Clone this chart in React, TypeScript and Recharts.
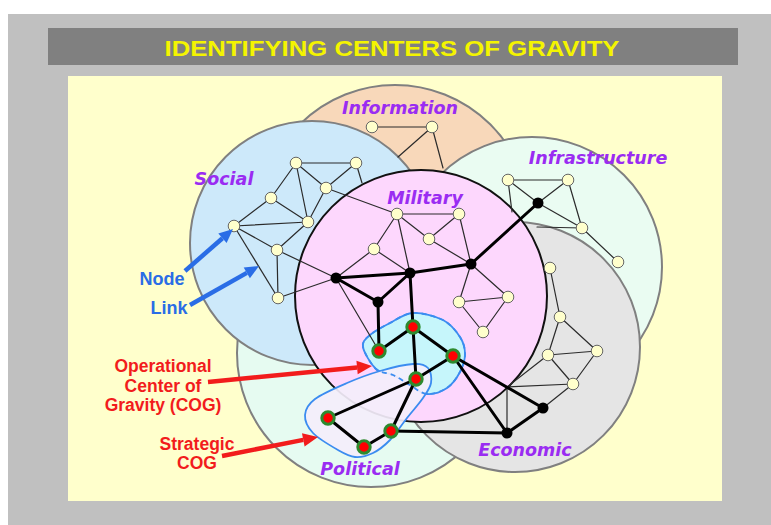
import React from "react"
import { ScatterChart, Scatter, XAxis, YAxis, ZAxis, ReferenceArea } from "recharts"

const W = 771
const H = 525

// the six domains, back to front
const domains = ["Information", "Political", "Social", "Infrastructure", "Economic", "Military"]
const domainX = [395, 371, 312, 532, 515, 421]
const domainY = [220, 353, 243, 267, 347, 296]
const domainR = [135, 134, 122, 130, 125, 126]
const domainLabelX = [400, 360, 224, 598, 525, 425]
const domainLabelY = [108, 469, 179, 158, 450, 198]

const domainFill: Record<string, string> = {
  Information: "#f8d8ba",
  Social: "#cde9fa",
  Infrastructure: "#eafcf2",
  Political: "#e6fbf1",
  Economic: "#e5e5e5",
  Military: "#fdd7fd",
}

// nodes
const plainNodes = [
  { id: "i1", x: 372, y: 127 }, { id: "i2", x: 432, y: 127 },
  { id: "s1", x: 296, y: 163 }, { id: "s2", x: 356, y: 163 }, { id: "s3", x: 326, y: 188 },
  { id: "s4", x: 271, y: 198 }, { id: "s5", x: 308, y: 222 }, { id: "s6", x: 234, y: 226 },
  { id: "s7", x: 277, y: 250 }, { id: "s8", x: 278, y: 298 },
  { id: "m1", x: 397, y: 214 }, { id: "m2", x: 459, y: 214 }, { id: "m3", x: 429, y: 239 },
  { id: "m4", x: 374, y: 249 }, { id: "m5", x: 459, y: 302 }, { id: "m6", x: 508, y: 297 },
  { id: "m7", x: 483, y: 332 },
  { id: "f1", x: 508, y: 180 }, { id: "f2", x: 568, y: 180 }, { id: "f3", x: 582, y: 228 },
  { id: "f4", x: 618, y: 262 }, { id: "f5", x: 550, y: 268 },
  { id: "e1", x: 560, y: 317 }, { id: "e2", x: 597, y: 351 }, { id: "e3", x: 548, y: 355 },
  { id: "e4", x: 573, y: 384 },
]
const keyNodes = [
  { id: "b1", x: 336, y: 278 }, { id: "b2", x: 410, y: 273 }, { id: "b3", x: 471, y: 264 },
  { id: "b4", x: 378, y: 302 }, { id: "b5", x: 538, y: 203 }, { id: "b6", x: 543, y: 408 },
  { id: "b7", x: 507, y: 433 },
]
const cogNodes = [
  { id: "r1", x: 413, y: 327 }, { id: "r2", x: 379, y: 351 }, { id: "r3", x: 453, y: 356 },
  { id: "r4", x: 416, y: 379 }, { id: "r5", x: 328, y: 418 }, { id: "r6", x: 391, y: 431 },
  { id: "r7", x: 364, y: 447 },
]
// link ends that disappear behind another circle
const joints = [
  { id: "j1", x: 507, y: 387 }, { id: "j2", x: 362, y: 183 }, { id: "j3", x: 398, y: 157 },
  { id: "j4", x: 443, y: 168 }, { id: "j5", x: 512, y: 212 }, { id: "j6", x: 537, y: 227 },
]

const thinLinks = [
  ["s1", "s2"], ["s1", "s4"], ["s1", "s5"], ["s1", "s3"], ["s2", "s3"], ["s2", "j2"],
  ["s3", "s5"], ["s3", "m1"], ["s4", "s5"], ["s4", "s6"], ["s6", "s5"], ["s6", "s7"],
  ["s6", "s8"], ["s7", "s5"], ["s7", "s8"], ["s7", "b1"], ["s8", "b1"],
  ["i1", "i2"], ["i2", "j3"], ["i2", "j4"],
  ["m1", "m2"], ["m1", "m4"], ["m1", "b2"], ["m1", "m3"], ["m2", "m3"], ["m2", "b3"],
  ["m3", "b3"], ["m4", "b1"], ["m4", "b2"], ["b3", "m5"], ["b3", "m6"], ["m5", "m6"],
  ["m5", "m7"], ["m6", "m7"], ["b1", "r2"],
  ["f1", "f2"], ["f1", "b5"], ["f2", "b5"], ["f2", "f3"], ["b5", "f3"], ["f3", "f4"],
  ["f1", "j5"], ["f3", "j6"], ["f5", "e1"],
  ["e1", "e2"], ["e1", "e3"], ["e3", "e2"], ["e3", "e4"], ["e2", "e4"], ["e4", "b6"],
  ["e3", "j1"], ["e4", "j1"], ["j1", "b7"],
]
const thickLinks = [
  ["b1", "b2"], ["b2", "b3"], ["b3", "b5"], ["b1", "b4"], ["b4", "b2"], ["b4", "r2"],
  ["b2", "r1"], ["r2", "r1"], ["r1", "r3"], ["r1", "r4"], ["r3", "r4"], ["r4", "r5"],
  ["r4", "r6"], ["r5", "r7"], ["r7", "r6"], ["r6", "b7"], ["r3", "b7"], ["r3", "b6"],
  ["b6", "b7"],
]

// the two centre-of-gravity outlines
const operationalBlob = [
  { x: 363, y: 347 }, { x: 370, y: 335 }, { x: 390, y: 323 }, { x: 413, y: 313 },
  { x: 443, y: 320 }, { x: 460, y: 337 }, { x: 465, y: 354 }, { x: 460, y: 372 },
  { x: 447, y: 388 }, { x: 427, y: 394 }, { x: 410, y: 385 }, { x: 393, y: 375 },
  { x: 376, y: 369 },
]
const strategicBlob = [
  { x: 305, y: 415 }, { x: 315, y: 399 }, { x: 347, y: 383 }, { x: 380, y: 371 },
  { x: 413, y: 364 }, { x: 428, y: 368 }, { x: 431, y: 383 }, { x: 423, y: 398 },
  { x: 407, y: 418 }, { x: 390, y: 440 }, { x: 373, y: 453 }, { x: 355, y: 457 },
  { x: 338, y: 450 }, { x: 313, y: 433 },
]

// callouts
const blueLabels = [{ x: 162, y: 279, text: "Node" }, { x: 169, y: 308, text: "Link" }]
const blueArrows = [
  { x: 185, y: 271 }, { x: 233, y: 229 },
  { x: 190, y: 305 }, { x: 259, y: 266 },
]
const redLabels = [
  { x: 163, y: 366, text: "Operational" }, { x: 163, y: 386, text: "Center of" },
  { x: 163, y: 405, text: "Gravity (COG)" },
  { x: 197, y: 444, text: "Strategic" }, { x: 197, y: 463, text: "COG" },
]
const redArrows = [
  { x: 208, y: 382 }, { x: 372, y: 366 },
  { x: 222, y: 456 }, { x: 318, y: 437 },
]
const title = [{ x: 392, y: 48, text: "IDENTIFYING CENTERS OF GRAVITY" }]

const allNodes = [...plainNodes, ...keyNodes, ...cogNodes, ...joints]
const pos: Record<string, { x: number; y: number }> = {}
allNodes.forEach((n) => (pos[n.id] = { x: n.x, y: n.y }))
const ends = (links: string[][]) => links.flatMap(([a, b]) => [pos[a], pos[b]])

const domainData = domains.map((name, i) => ({ name, x: domainX[i], y: domainY[i], r: domainR[i] }))
const domainLabels = domains.map((name, i) => ({ text: name, x: domainLabelX[i], y: domainLabelY[i] }))

function closedPath(pts: { x: number; y: number }[]) {
  const n = pts.length
  let d = `M${pts[0].x},${pts[0].y}`
  for (let i = 0; i < n; i++) {
    const p0 = pts[(i - 1 + n) % n]
    const p1 = pts[i]
    const p2 = pts[(i + 1) % n]
    const p3 = pts[(i + 2) % n]
    const c1x = p1.x + (p2.x - p0.x) / 6
    const c1y = p1.y + (p2.y - p0.y) / 6
    const c2x = p2.x - (p3.x - p1.x) / 6
    const c2y = p2.y - (p3.y - p1.y) / 6
    d += ` C${c1x},${c1y} ${c2x},${c2y} ${p2.x},${p2.y}`
  }
  return d + " Z"
}

const none = () => <g />

const segments = (stroke: string, width: number) => (p: any) => {
  const pts = p.points || []
  const out = []
  for (let i = 0; i + 1 < pts.length; i += 2) {
    out.push(
      <line key={i} x1={pts[i].x} y1={pts[i].y} x2={pts[i + 1].x} y2={pts[i + 1].y}
        stroke={stroke} strokeWidth={width} strokeLinecap="round" />
    )
  }
  return <g>{out}</g>
}

const arrows = (color: string, width: number, head: number) => (p: any) => {
  const pts = p.points || []
  const out = []
  for (let i = 0; i + 1 < pts.length; i += 2) {
    const a = pts[i]
    const b = pts[i + 1]
    const ang = Math.atan2(b.y - a.y, b.x - a.x)
    const bx = b.x - head * Math.cos(ang)
    const by = b.y - head * Math.sin(ang)
    const hw = head * 0.45
    const px = -Math.sin(ang) * hw
    const py = Math.cos(ang) * hw
    out.push(
      <g key={i}>
        <line x1={a.x} y1={a.y} x2={bx} y2={by} stroke={color} strokeWidth={width} />
        <polygon points={`${b.x},${b.y} ${bx + px},${by + py} ${bx - px},${by - py}`} fill={color} />
      </g>
    )
  }
  return <g>{out}</g>
}

const blob = (fill: string, opacity: number, dash?: string) => (p: any) => {
  const pts = p.points || []
  if (!pts.length) return <g />
  return (
    <path d={closedPath(pts)} fill={fill} fillOpacity={opacity}
      stroke="#3b8cf0" strokeWidth={1.8} strokeDasharray={dash} />
  )
}

const textShape = (style: any) => (p: any) => (
  <text x={p.cx} y={p.cy} dy={style.fontSize * 0.36} textAnchor="middle" {...style}>
    {p.payload.text}
  </text>
)

const purple = { fill: "#9a2cf2", fontFamily: "DejaVu Sans", fontWeight: "bold", fontStyle: "italic", fontSize: 17.5 }
const red = { fill: "#f21c1c", fontFamily: "Liberation Sans", fontWeight: "bold", fontSize: 17.5 }
const blue = { fill: "#2a6de6", fontFamily: "Liberation Sans", fontWeight: "bold", fontSize: 18 }

export default function App() {
  return (
    <div style={{ position: "absolute", left: 0, top: 0, width: W, height: H, background: "#fff" }}>
      <ScatterChart width={W} height={H} margin={{ top: 0, right: 0, bottom: 0, left: 0 }}>
        <XAxis type="number" dataKey="x" domain={[0, W]} hide allowDataOverflow />
        <YAxis type="number" dataKey="y" domain={[0, H]} reversed hide allowDataOverflow />
        <ZAxis zAxisId="rad" type="number" dataKey="r" domain={[0, W]} range={[0, W]} />
        <ReferenceArea x1={8} x2={W} y1={14} y2={H} fill="#c0c0c0" fillOpacity={1} stroke="none" />
        <ReferenceArea x1={48} x2={738} y1={28} y2={65} fill="#808080" fillOpacity={1} stroke="none" />
        <ReferenceArea x1={68} x2={722} y1={76} y2={501} fill="#ffffcc" fillOpacity={1} stroke="none" />

        <Scatter
          data={domainData}
          zAxisId="rad"
          isAnimationActive={false}
          shape={(p: any) => {
            const r = Number.isFinite(p.size) ? p.size : p.payload.r
            const mil = p.payload.name === "Military"
            return (
              <circle cx={p.cx} cy={p.cy} r={r} fill={domainFill[p.payload.name]}
                stroke={mil ? "#111" : "#808080"} strokeWidth={2} />
            )
          }}
        />

        <Scatter data={operationalBlob} isAnimationActive={false} shape={none} line={blob("#c6f6fb", 1)} />
        <Scatter data={strategicBlob} isAnimationActive={false} shape={none} line={blob("#f4eefb", 0.92)} />
        <Scatter data={operationalBlob} isAnimationActive={false} shape={none} line={blob("none", 0, "5 4")} />

        <Scatter data={ends(thinLinks)} isAnimationActive={false} shape={none} line={segments("#2b2b2b", 1.2)} />
        <Scatter data={ends(thickLinks)} isAnimationActive={false} shape={none} line={segments("#000", 3)} />

        <Scatter
          data={plainNodes}
          isAnimationActive={false}
          shape={(p: any) => <circle cx={p.cx} cy={p.cy} r={5.8} fill="#ffffcc" stroke="#666" strokeWidth={1} />}
        />
        <Scatter
          data={keyNodes}
          isAnimationActive={false}
          shape={(p: any) => <circle cx={p.cx} cy={p.cy} r={5.5} fill="#000" />}
        />
        <Scatter
          data={cogNodes}
          isAnimationActive={false}
          shape={(p: any) => <circle cx={p.cx} cy={p.cy} r={6.2} fill="#ff0000" stroke="#2e8a2e" strokeWidth={3} />}
        />

        <Scatter data={domainLabels} isAnimationActive={false} shape={textShape(purple)} />
        <Scatter data={blueLabels} isAnimationActive={false} shape={textShape(blue)} />
        <Scatter data={redLabels} isAnimationActive={false} shape={textShape(red)} />
        <Scatter data={blueArrows} isAnimationActive={false} shape={none} line={arrows("#2a6de6", 4.5, 14)} />
        <Scatter data={redArrows} isAnimationActive={false} shape={none} line={arrows("#f21c1c", 4.5, 15)} />
        <Scatter
          data={title}
          isAnimationActive={false}
          shape={(p: any) => (
            <text x={p.cx} y={p.cy} dy={8} textAnchor="middle" fill="#f4f400" fontFamily="Liberation Sans"
              fontWeight="bold" fontSize={22.5} textLength={455} lengthAdjust="spacingAndGlyphs">
              {p.payload.text}
            </text>
          )}
        />
      </ScatterChart>
    </div>
  )
}
